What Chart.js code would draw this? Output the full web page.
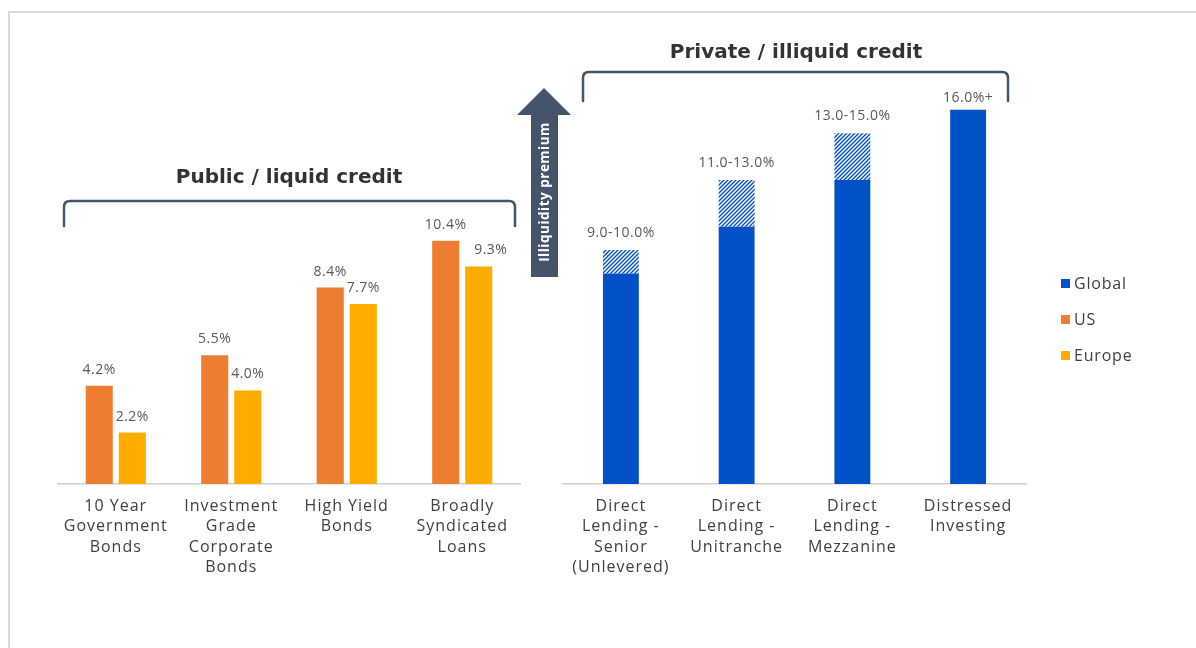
<!DOCTYPE html>
<html>
<head>
<meta charset="utf-8">
<script src="https://cdn.jsdelivr.net/npm/chart.js@4.4.1/dist/chart.umd.min.js"></script>
<style>
  body { margin: 0; background: #fff; }
  #wrap { position: relative; width: 1196px; height: 648px; overflow: hidden; }
  #frame { position: absolute; left: 8px; top: 11px; right: -10px; bottom: -10px;
           border-top: 2px solid #d9d9d9; border-left: 2px solid #d9d9d9; }
  canvas { position: absolute; left: 0; top: 0; }
</style>
</head>
<body>
<div id="wrap">
  <div id="frame"></div>
  <canvas id="publicChart" width="1196" height="648"></canvas>
  <canvas id="privateChart" width="1196" height="648"></canvas>
</div>
<script>
// public / liquid credit
const publicCategories = [
  ['10 Year', 'Government', 'Bonds'],
  ['Investment', 'Grade', 'Corporate', 'Bonds'],
  ['High Yield', 'Bonds'],
  ['Broadly', 'Syndicated', 'Loans']
];
const usYield = [4.2, 5.5, 8.4, 10.4];
const europeYield = [2.2, 4.0, 7.7, 9.3];

// private / illiquid credit
const privateCategories = [
  ['Direct', 'Lending -', 'Senior', '(Unlevered)'],
  ['Direct', 'Lending -', 'Unitranche'],
  ['Direct', 'Lending -', 'Mezzanine'],
  ['Distressed', 'Investing']
];
const globalLow = [9.0, 11.0, 13.0, 16.0];
const globalHigh = [10.0, 13.0, 15.0, 16.0];
const privateLabels = ['9.0-10.0%', '11.0-13.0%', '13.0-15.0%', '16.0%+'];

const BLUE = '#0050c8';
const ORANGE = '#ed7d31';
const GOLD = '#ffab00';
const SLATE = '#44546a';
const FONT = '"Open Sans", "Noto Sans", sans-serif';

function hatch(color) {
  const s = 4;
  const c = document.createElement('canvas');
  c.width = s; c.height = s;
  const g = c.getContext('2d');
  g.fillStyle = '#ffffff';
  g.fillRect(0, 0, s, s);
  g.strokeStyle = color;
  g.lineWidth = 1.4;
  g.beginPath();
  g.moveTo(0, s); g.lineTo(s, 0);
  g.moveTo(-1, 1); g.lineTo(1, -1);
  g.moveTo(s - 1, s + 1); g.lineTo(s + 1, s - 1);
  g.stroke();
  return g.createPattern(c, 'repeat');
}

// looser tracking for the axis labels
const tracking = {
  id: 'tracking',
  beforeDraw(chart) { chart.ctx.letterSpacing = '1px'; }
};

// value labels above the bars
const valueLabels = {
  id: 'valueLabels',
  afterDatasetsDraw(chart, args, opts) {
    const ctx = chart.ctx;
    ctx.save();
    ctx.letterSpacing = '0.5px';
    ctx.font = '14px ' + FONT;
    ctx.fillStyle = '#595959';
    ctx.textAlign = 'center';
    ctx.textBaseline = 'middle';
    opts.items(chart).forEach(it => {
      ctx.fillText(it.text, it.x, it.y);
    });
    ctx.restore();
  }
};

function bracket(ctx, x1, x2, y, drop) {
  const r = 6;
  ctx.beginPath();
  ctx.moveTo(x1, y + drop);
  ctx.lineTo(x1, y + r);
  ctx.quadraticCurveTo(x1, y, x1 + r, y);
  ctx.lineTo(x2 - r, y);
  ctx.quadraticCurveTo(x2, y, x2, y + r);
  ctx.lineTo(x2, y + drop);
  ctx.stroke();
}

// headings, brackets, illiquidity arrow and legend
const decorations = {
  id: 'decorations',
  afterDraw(chart) {
    const ctx = chart.ctx;
    ctx.save();
    ctx.letterSpacing = '0px';
    ctx.strokeStyle = SLATE;
    ctx.lineWidth = 2.5;
    ctx.lineCap = 'round';
    bracket(ctx, 64, 515, 201, 25);
    bracket(ctx, 583, 1008, 72, 29);

    ctx.fillStyle = '#333';
    ctx.font = 'bold 20px "DejaVu Sans", sans-serif';
    ctx.textAlign = 'center';
    ctx.textBaseline = 'middle';
    ctx.fillText('Public / liquid credit', 289, 178);
    ctx.fillText('Private / illiquid credit', 796, 53);

    // arrow
    ctx.fillStyle = SLATE;
    ctx.beginPath();
    ctx.moveTo(531, 277);
    ctx.lineTo(531, 115);
    ctx.lineTo(517, 115);
    ctx.lineTo(544, 88);
    ctx.lineTo(571, 115);
    ctx.lineTo(558, 115);
    ctx.lineTo(558, 277);
    ctx.closePath();
    ctx.fill();
    ctx.translate(545, 192);
    ctx.rotate(-Math.PI / 2);
    ctx.fillStyle = '#fff';
    ctx.letterSpacing = '0.5px';
    ctx.font = 'bold 13.5px ' + FONT;
    ctx.fillText('Illiquidity premium', 0, 0);
    ctx.setTransform(1, 0, 0, 1, 0, 0);

    // legend
    const legend = [['Global', BLUE], ['US', ORANGE], ['Europe', GOLD]];
    ctx.letterSpacing = '0.8px';
    ctx.font = '16px ' + FONT;
    ctx.textAlign = 'left';
    legend.forEach((l, i) => {
      const y = 284 + i * 36;
      ctx.fillStyle = l[1];
      ctx.fillRect(1061, y - 5, 9, 9);
      ctx.fillStyle = '#404040';
      ctx.fillText(l[0], 1074, y);
    });
    ctx.restore();
  }
};

function baseOptions(left, right) {
  return {
    responsive: false,
    animation: false,
    devicePixelRatio: 1,
    layout: { padding: { left: left, right: right, top: 63, bottom: 0 } },
    plugins: { legend: { display: false }, tooltip: { enabled: false } },
    scales: {
      x: {
        grid: { display: false, drawTicks: false },
        border: { display: true, color: '#d0d0d0', width: 1.5 },
        ticks: {
          color: '#404040',
          font: { family: FONT, size: 16, lineHeight: 1.28 },
          padding: 12,
          maxRotation: 0,
          autoSkip: false
        },
        afterFit: s => { s.height = 164; }
      },
      y: { display: false, min: 0, max: 18 }
    }
  };
}

const pubOpts = baseOptions(58, 676);
pubOpts.plugins.valueLabels = {
  items: chart => {
    const out = [];
    [usYield, europeYield].forEach((vals, d) => {
      chart.getDatasetMeta(d).data.forEach((bar, i) => {
        const nudge = (d === 1 && i === 3) ? 12 : 0;
        out.push({ text: vals[i].toFixed(1) + '%', x: bar.x + nudge, y: bar.y - 16 });
      });
    });
    return out;
  }
};

new Chart(document.getElementById('publicChart'), {
  type: 'bar',
  data: {
    labels: publicCategories,
    datasets: [
      { label: 'US', data: usYield, backgroundColor: ORANGE,
        barPercentage: 0.82, categoryPercentage: 0.572 },
      { label: 'Europe', data: europeYield, backgroundColor: GOLD,
        barPercentage: 0.82, categoryPercentage: 0.572 }
    ]
  },
  options: pubOpts,
  plugins: [tracking, valueLabels]
});

const privOpts = baseOptions(563, 170);
privOpts.scales.x.stacked = true;
privOpts.scales.y.stacked = true;
privOpts.plugins.valueLabels = {
  items: chart => chart.getDatasetMeta(1).data.map((bar, i) => ({
    text: privateLabels[i],
    x: bar.x,
    y: bar.y - (globalHigh[i] > globalLow[i] ? 17 : 12)
  }))
};

new Chart(document.getElementById('privateChart'), {
  type: 'bar',
  data: {
    labels: privateCategories,
    datasets: [
      { label: 'Global', data: globalLow, backgroundColor: BLUE,
        barPercentage: 1, categoryPercentage: 0.31 },
      { label: 'Global range', data: globalHigh.map((h, i) => h - globalLow[i]),
        backgroundColor: hatch(BLUE), barPercentage: 1, categoryPercentage: 0.31 }
    ]
  },
  options: privOpts,
  plugins: [tracking, valueLabels, decorations]
});
</script>
</body>
</html>
